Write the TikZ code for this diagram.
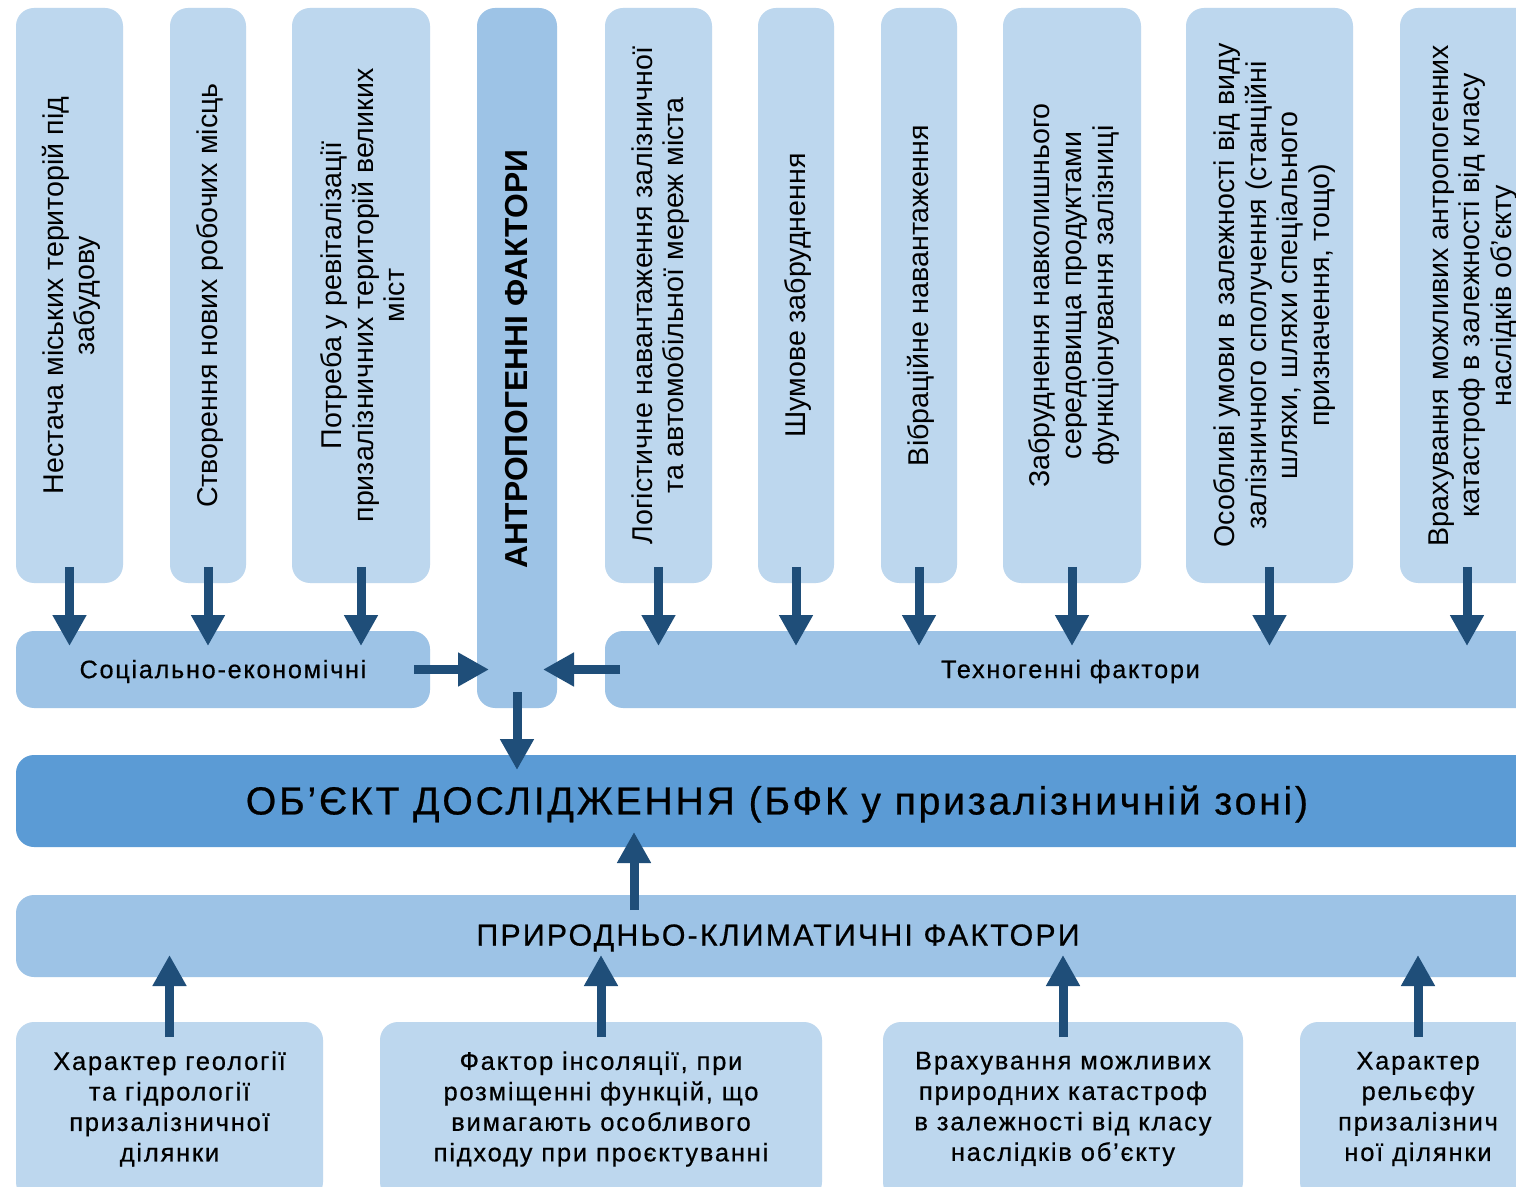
\documentclass[tikz,border=0pt]{standalone}
\usepackage{fontspec}
\setmainfont{Liberation Sans}
\newfontfamily\spaced[LetterSpace=7, FakeBold=0.6]{Liberation Sans}
\usetikzlibrary{fit,calc,arrows.meta}
\definecolor{lightbox}{HTML}{BDD7EE}
\definecolor{bandc}{HTML}{9DC3E6}
\definecolor{mainc}{HTML}{5B9BD5}
\definecolor{arrowc}{HTML}{1F4E79}
\begin{document}
\begin{tikzpicture}[x=0.5pt,y=-0.5pt,
 box/.style={inner sep=0pt, outer sep=0pt, rounded corners=9pt, draw=none},
 topbox/.style={box, fill=lightbox},
 bandbox/.style={box, fill=bandc},
 mainbox/.style={box, fill=mainc},
 arr/.style={draw=arrowc, line width=4.5pt, -{Triangle[length=15.5pt,width=16pt]}},
 vtext/.style={rotate=90, align=center, font=\fontsize{14.3}{15.8}\selectfont, inner sep=0pt},
 btext/.style={align=center, font=\spaced\fontsize{12.75}{15.25}\selectfont, inner sep=0pt},
 bandtext/.style={font=\spaced\fontsize{12.6}{15}\selectfont, inner sep=0pt},
]
\useasboundingbox (0,0) rectangle (1516,1187);
\clip (0,0) rectangle (1516,1187);
\fill[white] (0,0) rectangle (1516,1187);

% top boxes
\node[topbox, fit={(16,8) (123,583)}] (t1) {};
\node[topbox, fit={(170,8) (246,583)}] (t2) {};
\node[topbox, fit={(292,8) (430,583)}] (t3) {};
\node[topbox, fit={(605,8) (712,583)}] (t4) {};
\node[topbox, fit={(758,8) (834,583)}] (t5) {};
\node[topbox, fit={(881,8) (957,583)}] (t6) {};
\node[topbox, fit={(1003,8) (1141,583)}] (t7) {};
\node[topbox, fit={(1186,8) (1353,583)}] (t8) {};
\node[topbox, fit={(1400,8) (1534,583)}] (t9) {};

\node[vtext] (l1) at ($(t1.center)+(2,0)$) {Нестача міських територій під\\забудову};
\node[vtext] (l2) at ($(t2.center)+(2,0)$) {Створення нових робочих місць};
\node[vtext] (l3) at ($(t3.center)+(2,0)$) {Потреба у ревіталізації\\призалізничних територій великих\\міст};
\node[vtext] (l4) at ($(t4.center)+(2,0)$) {Логістичне навантаження залізничної\\та автомобільної мереж міста};
\node[vtext] (l5) at ($(t5.center)+(2,0)$) {Шумове забруднення};
\node[vtext] (l6) at ($(t6.center)+(2,0)$) {Вібраційне навантаження};
\node[vtext] (l7) at ($(t7.center)+(2,0)$) {Забруднення навколишнього\\середовища продуктами\\функціонування залізниці};
\node[vtext] (l8) at ($(t8.center)+(5,0)$) {Особливі умови в залежності від виду\\залізничного сполучення (станційні\\шляхи, шляхи спеціального\\призначення, тощо)};
\node[vtext] (l9) at ($(t9.center)+(6,0)$) {Врахування можливих антропогенних\\катастроф в залежності від класу\\наслідків об’єкту};

% central column
\node[bandbox, fit={(477,8) (557,708)}] (anth) {};
\node[rotate=90, inner sep=0pt, font=\bfseries\fontsize{15.9}{18}\selectfont] (anthl) at ($(anth.center)+(0,1)$) {АНТРОПОГЕННІ ФАКТОРИ};

% bands
\node[bandbox, fit={(16,631) (430,708)}] (soc) {};
\node[bandtext] (socl) at ($(soc.center)+(0,2)$) {Соціально-економічні};
\node[bandbox, fit={(605,631) (1540,708)}] (tech) {};
\node[bandtext] (techl) at ($(tech.center)+(-2,2)$) {Техногенні фактори};

\node[mainbox, fit={(16,755) (1540,847)}] (obj) {};
\node[inner sep=0pt, font=\spaced\fontsize{19.6}{22}\selectfont] (objl) at ($(obj.center)+(-1,3)$) {ОБ’ЄКТ ДОСЛІДЖЕННЯ (БФК у призалізничній зоні)};

\node[bandbox, fit={(16,895) (1540,977)}] (nat) {};
\node[inner sep=0pt, font=\spaced\fontsize{15.2}{17}\selectfont] (natl) at ($(nat.center)+(0,2)$) {ПРИРОДНЬО-КЛИМАТИЧНІ ФАКТОРИ};

% bottom boxes
\node[topbox, fit={(16,1022) (323,1200)}] (bA) {};
\node[topbox, fit={(380,1022) (822,1200)}] (bB) {};
\node[topbox, fit={(883,1022) (1243,1200)}] (bC) {};
\node[topbox, fit={(1300,1022) (1536,1200)}] (bD) {};
\node[btext] (lA) at ($(bA.north)+(0,87)$) {Характер геології\\та гідрології\\призалізничної\\ділянки};
\node[btext] (lB) at ($(bB.north)+(0,87)$) {Фактор інсоляції, при\\розміщенні функцій, що\\вимагають особливого\\підходу при проєктуванні};
\node[btext] (lC) at ($(bC.north)+(0,87)$) {Врахування можливих\\природних катастроф\\в залежності від класу\\наслідків об’єкту};
\node[btext] (lD) at ($(bD.north)+(0,87)$) {Характер\\рельєфу\\призалізнич\\ної ділянки};

% arrows top -> bands
\foreach \b/\t in {t1/soc,t2/soc,t3/soc,t4/tech,t5/tech,t6/tech,t7/tech,t8/tech,t9/tech}{
  \draw[arr] ($(\b.south)+(0,-16)$) -- ($(\b.south |- \t.north)+(0,15)$);
}
% bands -> central column
\draw[arr] ($(soc.east)+(-16,0)$) -- ($(anth.west |- soc.east)+(12,0)$);
\draw[arr] ($(tech.west)+(15,0)$) -- ($(anth.east |- tech.west)+(-14,0)$);
% central column -> object
\draw[arr] ($(anth.south)+(0,-16)$) -- ($(anth.south |- obj.north)+(0,15)$);
% natural -> object
\coordinate (upx) at (634,0);
\draw[arr] ($(upx |- nat.north)+(0,15)$) -- ($(upx |- obj.south)+(0,-15)$);
% bottom boxes -> natural
\foreach \b in {bA,bB,bC,bD}{
  \draw[arr] ($(\b.north)+(0,15)$) -- ($(\b.north |- nat.south)+(0,-22)$);
}
\end{tikzpicture}
\end{document}
